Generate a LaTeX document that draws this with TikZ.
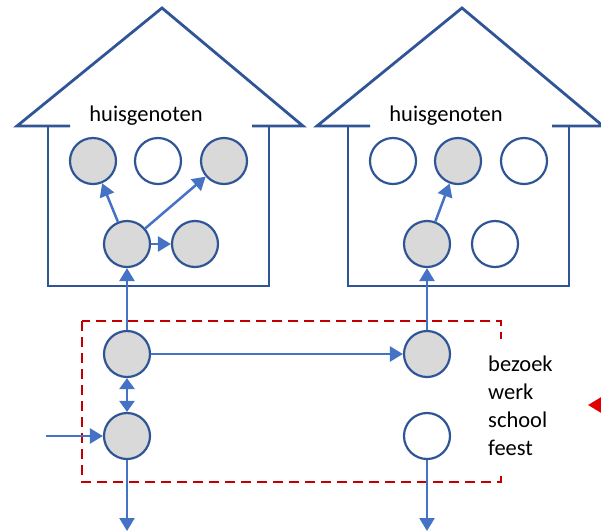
\documentclass[tikz,border=0pt]{standalone}
\usepackage{fontspec}
\setmainfont{Carlito}
\usetikzlibrary{arrows.meta}
\definecolor{huisblauw}{HTML}{2F5597}
\definecolor{pijlblauw}{HTML}{4472C4}
\definecolor{cirkelgrijs}{HTML}{D9D9D9}
\definecolor{stippelrood}{HTML}{C00000}
\definecolor{pijlrood}{HTML}{E00000}

\begin{document}
\begin{tikzpicture}[x=1pt,y=-1pt,
  pers/.style={circle,draw=huisblauw,line width=2.2pt,fill=white,minimum size=46pt,inner sep=0pt},
  besmet/.style={pers,fill=cirkelgrijs},
  pijl/.style={pijlblauw,line width=2.5pt,-{Triangle[length=13pt,width=15pt]}},
  huis/.style={huisblauw,line width=2.8pt},
  tekst/.style={font=\fontsize{22.5}{28}\selectfont}]
\useasboundingbox (0,0) rectangle (601,531);
\clip (0,0) rectangle (601,531);

% huizen
\draw[huis] (70,126) -- (17,126) -- (162,8) -- (303,126) -- (252,126);
\draw[huis] (48,126) -- (48,286) -- (269,286) -- (269,126);
\draw[huis] (370,126) -- (317,126) -- (462,8) -- (603,126) -- (552,126);
\draw[huis] (348,126) -- (348,286) -- (569,286) -- (569,126);
\node[tekst,anchor=base] (kop1) at (146,121) {huisgenoten};
\node[tekst,anchor=base] (kop2) at (446,121) {huisgenoten};

% personen
\node[besmet] (a1) at (93,161) {};
\node[pers] (a2) at (158,161) {};
\node[besmet] (a3) at (224,161) {};
\node[besmet] (a4) at (127,244) {};
\node[besmet] (a5) at (195,244) {};
\node[pers] (b1) at (393,161) {};
\node[besmet] (b2) at (458,161) {};
\node[pers] (b3) at (524,161) {};
\node[besmet] (b4) at (427,244) {};
\node[pers] (b5) at (495,244) {};
\node[besmet] (c1) at (127,354) {};
\node[besmet] (c2) at (127,436) {};
\node[besmet] (d1) at (427,354) {};
\node[pers] (d2) at (427,436) {};

% buiten de deur
\draw[stippelrood,line width=2.5pt,dash pattern=on 10pt off 6pt] (82,321) rectangle (501,482);
\node[tekst,fill=white,align=left,anchor=west,inner xsep=2pt,inner ysep=17pt] (lijst) at (486,406)
  {bezoek\\werk\\school\\feest};

\coordinate (in) at (46,436);
\coordinate (uitL) at (127,531);
\coordinate (uitR) at (427,531);
\coordinate (rechts) at (615,405);
\coordinate (wijs) at (588,405);

\draw[pijl] (a4) -- (a1);
\draw[pijl] (a4) -- (a3);
\draw[pijl] (a4) -- (a5);
\draw[pijl] (c1) -- (a4);
\draw[pijl] (b4) -- (b2);
\draw[pijl] (d1) -- (b4);
\draw[pijl] (c1) -- (d1);
\draw[pijl,{Triangle[length=11pt,width=15pt]}-{Triangle[length=11pt,width=15pt]}] (c1) -- (c2);
\draw[pijl] (in) -- (c2);
\draw[pijl] (c2) -- (uitL);
\draw[pijl] (d2) -- (uitR);
\draw[pijlrood,line width=2.5pt,-{Triangle[length=13pt,width=15pt]}] (rechts) -- (wijs);
\end{tikzpicture}
\end{document}
